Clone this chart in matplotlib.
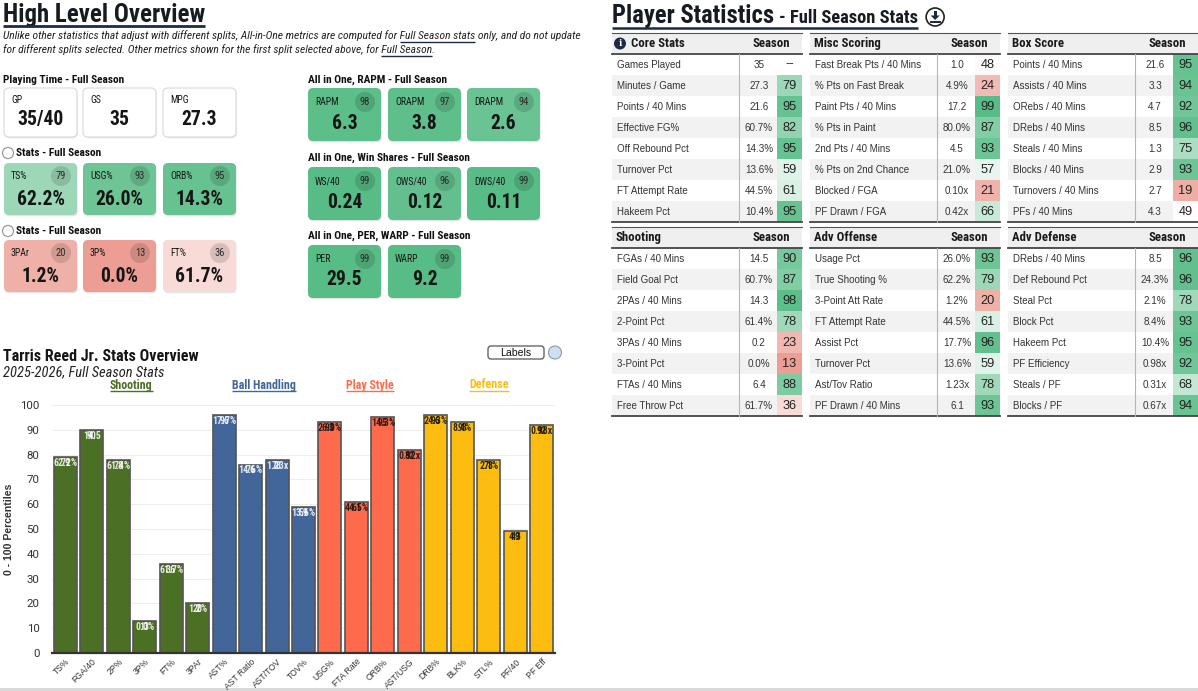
import matplotlib
matplotlib.use('Agg')
import matplotlib.pyplot as plt
from matplotlib import font_manager
from matplotlib.patches import FancyBboxPatch, Rectangle, Circle, Polygon
import matplotlib.transforms as mtransforms
import numpy as np

# ---------------- data ----------------
playing_labels = ['GP', 'GS', 'MPG']
playing_values = ['35/40', '35', '27.3']

stats1_labels = ['TS%', 'USG%', 'ORB%']
stats1_values = ['62.2%', '26.0%', '14.3%']
stats1_pcts = [79, 93, 95]

stats2_labels = ['3PAr', '3P%', 'FT%']
stats2_values = ['1.2%', '0.0%', '61.7%']
stats2_pcts = [20, 13, 36]

rapm_labels = ['RAPM', 'ORAPM', 'DRAPM']
rapm_values = ['6.3', '3.8', '2.6']
rapm_pcts = [98, 97, 94]

ws_labels = ['WS/40', 'OWS/40', 'DWS/40']
ws_values = ['0.24', '0.12', '0.11']
ws_pcts = [99, 96, 99]

per_labels = ['PER', 'WARP']
per_values = ['29.5', '9.2']
per_pcts = [99, 99]

bar_categories = ['TS%', 'FGA/40', '2P%', '3P%', 'FT%', '3PAr',
                  'AST%', 'AST Ratio', 'AST/TOV', 'TOV%',
                  'USG%', 'FTA Rate', 'ORB%', 'AST/USG',
                  'DRB%', 'BLK%', 'STL%', 'PF/40', 'PF Eff']
bar_percentiles = [79, 90, 78, 13, 36, 20,
                   96, 76, 78, 59,
                   93, 61, 95, 82,
                   96, 93, 78, 49, 92]
bar_value_labels = ['62.2%', '14.5', '61.4%', '0.0%', '61.7%', '1.2%',
                    '17.7%', '14.6%', '1.23x', '13.6%',
                    '26.0%', '44.5%', '14.3%', '0.92x',
                    '24.3%', '8.4%', '2.1%', '4.3', '0.98x']
bar_groups = (['Shooting'] * 6 + ['Ball Handling'] * 4 +
              ['Play Style'] * 4 + ['Defense'] * 5)
group_names = ['Shooting', 'Ball Handling', 'Play Style', 'Defense']
group_colors = {'Shooting': '#4b6f24', 'Ball Handling': '#426699',
                'Play Style': '#fe6b4c', 'Defense': '#fcbc10'}

core_labels = ['Games Played', 'Minutes / Game', 'Points / 40 Mins', 'Effective FG%',
               'Off Rebound Pct', 'Turnover Pct', 'FT Attempt Rate', 'Hakeem Pct']
core_values = ['35', '27.3', '21.6', '60.7%', '14.3%', '13.6%', '44.5%', '10.4%']
core_pcts = [None, 79, 95, 82, 95, 59, 61, 95]

misc_labels = ['Fast Break Pts / 40 Mins', '% Pts on Fast Break', 'Paint Pts / 40 Mins',
               '% Pts in Paint', '2nd Pts / 40 Mins', '% Pts on 2nd Chance',
               'Blocked / FGA', 'PF Drawn / FGA']
misc_values = ['1.0', '4.9%', '17.2', '80.0%', '4.5', '21.0%', '0.10x', '0.42x']
misc_pcts = [48, 24, 99, 87, 93, 57, 21, 66]

box_labels = ['Points / 40 Mins', 'Assists / 40 Mins', 'ORebs / 40 Mins', 'DRebs / 40 Mins',
              'Steals / 40 Mins', 'Blocks / 40 Mins', 'Turnovers / 40 Mins', 'PFs / 40 Mins']
box_values = ['21.6', '3.3', '4.7', '8.5', '1.3', '2.9', '2.7', '4.3']
box_pcts = [95, 94, 92, 96, 75, 93, 19, 49]

shoot_labels = ['FGAs / 40 Mins', 'Field Goal Pct', '2PAs / 40 Mins', '2-Point Pct',
                '3PAs / 40 Mins', '3-Point Pct', 'FTAs / 40 Mins', 'Free Throw Pct']
shoot_values = ['14.5', '60.7%', '14.3', '61.4%', '0.2', '0.0%', '6.4', '61.7%']
shoot_pcts = [90, 87, 98, 78, 23, 13, 88, 36]

advo_labels = ['Usage Pct', 'True Shooting %', '3-Point Att Rate', 'FT Attempt Rate',
               'Assist Pct', 'Turnover Pct', 'Ast/Tov Ratio', 'PF Drawn / 40 Mins']
advo_values = ['26.0%', '62.2%', '1.2%', '44.5%', '17.7%', '13.6%', '1.23x', '6.1']
advo_pcts = [93, 79, 20, 61, 96, 59, 78, 93]

advd_labels = ['DRebs / 40 Mins', 'Def Rebound Pct', 'Steal Pct', 'Block Pct',
               'Hakeem Pct', 'PF Efficiency', 'Steals / PF', 'Blocks / PF']
advd_values = ['8.5', '24.3%', '2.1%', '8.4%', '10.4%', '0.98x', '0.31x', '0.67x']
advd_pcts = [96, 96, 78, 93, 95, 92, 68, 94]

# ---------------- setup ----------------
W, H = 1198, 691
fig = plt.figure(figsize=(W / 100, H / 100), dpi=100)
fig.patch.set_facecolor('white')
ov = fig.add_axes([0, 0, 1, 1], zorder=0)
ov.set_xlim(0, W)
ov.set_ylim(H, 0)
ov.axis('off')
R = fig.canvas.get_renderer()

names = {f.name for f in font_manager.fontManager.ttflist}
if 'Roboto Condensed' in names:
    COND = 'Roboto Condensed'
elif 'Liberation Sans Narrow' in names:
    COND = 'Liberation Sans Narrow'
else:
    COND = 'Roboto'
BODY = 'Liberation Sans' if 'Liberation Sans' in names else 'DejaVu Sans'
NAVY = '#1b2a4a'


def pt(p):
    return p * 0.72


def measure(s, size_px, **kw):
    t = ov.text(0, 0, s, fontsize=pt(size_px), **kw)
    w = t.get_window_extent(R).width
    t.remove()
    return w


def fit(s, target, size_px, **kw):
    return size_px * target / measure(s, size_px, **kw)


def T(x, y, s, size_px, ha='left', va='center', color='#111111', **kw):
    return ov.text(x, y, s, fontsize=pt(size_px), ha=ha, va=va, color=color, **kw)


def xext(t):
    bb = t.get_window_extent(R)
    return bb.x0, bb.x1


def uline(x0, x1, y, color=NAVY, lw=1.0):
    ov.plot([x0, x1], [y, y], color=color, lw=lw, solid_capstyle='butt', zorder=5)


GREEN = np.array([85, 187, 132])
RED = np.array([229, 123, 110])


def pct_color(p):
    if p >= 50:
        t = (p - 50) / 50
        c = 255 + t * (GREEN - 255)
    else:
        t = (50 - p) / 50
        c = 255 + t * (RED - 255)
    return tuple(np.clip(c, 0, 255) / 255)


# ---------------- left: High Level Overview ----------------
ts = fit('High Level Overview', 202, 25, family=COND, weight='bold')
t = T(3, 15, 'High Level Overview', ts, family=COND, weight='bold', color='#161a22')
a, b = xext(t)
uline(a, b, 26, lw=2.0)

sub_pre1 = 'Unlike other statistics that adjust with different splits, All-in-One metrics are computed for '
sub_u1 = 'Full Season stats'
sub_post1 = ' only, and do not update'
sub_pre2 = 'for different splits selected. Other metrics shown for the first split selected above, for '
sub_u2 = 'Full Season'
sub_post2 = '.'
skw = dict(family=COND, style='italic')
ss = fit(sub_pre1 + sub_u1 + sub_post1, 579, 12, **skw)
for (pre, u, post, y) in [(sub_pre1, sub_u1, sub_post1, 36), (sub_pre2, sub_u2, sub_post2, 50)]:
    T(3, y, pre + u + post, ss, color='#222222', **skw)
    xe = 3 + measure(pre + u, ss, **skw)
    xs = xe - measure(u, ss, **skw)
    uline(xs, xe, y + 0.45 * ss + 1, lw=1.0)

sec_kw = dict(family=COND, weight='bold')
sec_size = fit('Playing Time - Full Season', 121, 11, **sec_kw)
lab_size = fit('DRAPM', 29, 10, family=COND)
val_size = fit('62.2%', 48, 18, family=COND, weight='bold')


def card(x, y, w, h, label, value, pct=None, val_dy=35, lab_dy=13):
    fc = 'white' if pct is None else pct_color(pct)
    ov.add_patch(FancyBboxPatch((x + 0.6, y + 1.2), w, h,
                                boxstyle='round,pad=0,rounding_size=5',
                                fc='#e4e4e4', ec='none', zorder=1))
    ov.add_patch(FancyBboxPatch((x, y), w, h, boxstyle='round,pad=0,rounding_size=5',
                                fc=fc, ec='#dcdcdc' if pct is None else 'none',
                                lw=0.9, zorder=2))
    T(x + 7, y + lab_dy, label, lab_size, family=COND, color='#151515', zorder=3)
    if pct is not None:
        ov.add_patch(Circle((x + w - 16, y + lab_dy), 10, fc='black', alpha=0.13,
                            ec='none', zorder=3))
        T(x + w - 16, y + lab_dy, str(pct), lab_size * 1.08, ha='center',
          family=COND, color='#2a2a2a', zorder=4)
    T(x + w / 2, y + val_dy, value, val_size, ha='center', family=COND,
      weight='bold', color='#151515', zorder=3)


left_x = [4, 83, 163]
right_x = [308, 388, 467]
CW = 73

T(3, 80, 'Playing Time - Full Season', sec_size, **sec_kw)
for xx, l, v in zip(left_x, playing_labels, playing_values):
    card(xx, 88, CW, 49, l, v, None, val_dy=31, lab_dy=12)

for yy, cy, labs, vals, pcs in [(153, 163, stats1_labels, stats1_values, stats1_pcts),
                                (231, 240, stats2_labels, stats2_values, stats2_pcts)]:
    ov.add_patch(Circle((8, yy), 5.5, fc='white', ec='#9a9a9a', lw=0.9, zorder=3))
    T(16, yy, 'Stats - Full Season', sec_size, **sec_kw)
    for xx, l, v, p in zip(left_x, labs, vals, pcs):
        card(xx, cy, CW, 52, l, v, p, val_dy=36, lab_dy=13)

for yy, cy, title, labs, vals, pcs, vdy in [
        (80, 88, 'All in One, RAPM - Full Season', rapm_labels, rapm_values, rapm_pcts, 35),
        (158, 167, 'All in One, Win Shares - Full Season', ws_labels, ws_values, ws_pcts, 35),
        (236, 245, 'All in One, PER, WARP - Full Season', per_labels, per_values, per_pcts, 34)]:
    T(308, yy, title, sec_size, **sec_kw)
    for xx, l, v, p in zip(right_x, labs, vals, pcs):
        card(xx, cy, CW, 53, l, v, p, val_dy=vdy, lab_dy=14)

# ---------------- bar chart ----------------
bt = fit('Tarris Reed Jr. Stats Overview', 196, 14, family=COND, weight='bold')
T(3, 356, 'Tarris Reed Jr. Stats Overview', bt, family=COND, weight='bold', color='#151515')
st = fit('2025-2026, Full Season Stats', 162, 12, family=COND, style='italic')
T(3, 372, '2025-2026, Full Season Stats', st, family=COND, style='italic', color='#222222')

ov.add_patch(FancyBboxPatch((488, 346), 56, 13, boxstyle='round,pad=0,rounding_size=3',
                            fc='white', ec='#555555', lw=0.9, zorder=3))
T(516, 352.5, 'Labels', 10.5, ha='center', family=BODY, color='#111111', zorder=4)
ov.add_patch(Circle((555, 352.5), 6.5, fc='#cfe0f5', ec='#8e9aa8', lw=0.8, zorder=3))

ax = fig.add_axes([52 / W, (H - 653) / H, 503 / W, 248 / H], zorder=2)
ax.set_facecolor('none')
xpos = np.arange(len(bar_categories))
bcolors = [group_colors[g] for g in bar_groups]
ax.bar(xpos, bar_percentiles, width=0.87, color=bcolors, edgecolor='#555555',
       linewidth=1.2, zorder=3)
ax.set_xlim(-0.5, len(xpos) - 0.5)
ax.set_ylim(0, 100)
ax.set_yticks(range(0, 101, 10))
ax.grid(axis='y', color='#eeeeee', lw=0.8, zorder=0)
ax.grid(axis='x', visible=False)
for s in ['top', 'right', 'left']:
    ax.spines[s].set_visible(False)
ax.spines['bottom'].set_color('#333333')
ax.spines['bottom'].set_linewidth(1.6)
ax.spines['bottom'].set_zorder(4)
ax.set_xticks(xpos)
ax.set_xticklabels(bar_categories, rotation=45, ha='right', rotation_mode='anchor',
                   fontsize=pt(8.7), family=BODY, color='#333333')
ax.tick_params(axis='x', length=0, pad=3)
ax.tick_params(axis='y', length=0, pad=9, labelsize=pt(11.5), labelcolor='#333333')
for lab in ax.get_yticklabels():
    lab.set_family('Roboto' if 'Roboto' in names else BODY)
ax.set_ylabel('0 - 100 Percentiles', fontsize=pt(10.5), weight='bold', family=BODY,
              color='#333333')
ax.yaxis.set_label_coords((14 - 52) / 503, 0.5)

for xi, p, v, g in zip(xpos, bar_percentiles, bar_value_labels, bar_groups):
    tc = 'white' if g in ('Shooting', 'Ball Handling') else '#111111'
    for s in (v, str(p)):
        ax.text(xi, p - 2.4, s, ha='center', va='center', fontsize=pt(9.8),
                weight='bold', family=COND, color=tc, zorder=5, alpha=0.85)

blend = mtransforms.blended_transform_factory(ax.transData, ax.transAxes)
gs = fit('Ball Handling', 64, 11, family=COND, weight='bold')
for gname in group_names:
    idx = [i for i, g in enumerate(bar_groups) if g == gname]
    cx = (idx[0] + idx[-1]) / 2
    t = ax.text(cx, (653 - 385) / 248, gname, transform=blend, ha='center', va='center',
                fontsize=pt(gs), family=COND, weight='bold', color=group_colors[gname])
    a, b = xext(t)
    uline(a, b, 385 + 0.45 * gs + 1, color=group_colors[gname], lw=1.0)

ov.add_patch(Rectangle((0, 688), W, 3.5, fc='#d9d9d9', ec='none', zorder=1))

# ---------------- right: Player Statistics ----------------
ps = fit('Player Statistics', 162, 21, family=COND, weight='bold')
t1 = T(612, 16, 'Player Statistics', ps, family=COND, weight='bold', color='#161a22')
a1, b1 = xext(t1)
ps2 = fit('- Full Season Stats', 140, 17, family=COND, weight='bold')
t2 = T(b1 + 5, 18, '- Full Season Stats', ps2, family=COND, weight='bold', color='#161a22')
a2, b2 = xext(t2)
uline(a1, b2, 27.5, lw=1.8)
icx = b2 + 17
ov.add_patch(Circle((icx, 17), 9, fc='white', ec='#222222', lw=1.2, zorder=3))
ov.add_patch(Rectangle((icx - 1.6, 10.5), 3.2, 5.5, fc='#1c2a44', ec='none', zorder=4))
ov.add_patch(Polygon([(icx - 4.5, 15.5), (icx + 4.5, 15.5), (icx, 20)], closed=True,
                     fc='#1c2a44', ec='none', zorder=4))
ov.add_patch(Rectangle((icx - 5.5, 20.5), 11, 2.2, fc='#1c2a44', ec='none', zorder=4))

body_size = fit('Fast Break Pts / 40 Mins', 106, 10, family=BODY)
hdr_size = fit('Core Stats', 53, 11, family=COND, weight='bold')
TW, RH = 190, 21


def table(x0, y0, title, labels, values, pcts, info=False):
    ov.add_patch(Rectangle((x0, y0), TW, RH, fc='#efefef', ec='none', zorder=1))
    tx = x0 + 4
    if info:
        ov.add_patch(Circle((x0 + 8, y0 + RH / 2), 6, fc='#1d2b45', ec='none', zorder=3))
        T(x0 + 8, y0 + RH / 2 + 0.3, 'i', 9, ha='center', family='DejaVu Serif',
          weight='bold', color='white', zorder=4)
        tx = x0 + 19
    T(tx, y0 + RH / 2, title, hdr_size, family=COND, weight='bold', color='#1a1a1a', zorder=3)
    T(x0 + 159, y0 + RH / 2, 'Season', hdr_size, ha='center', family=COND, weight='bold',
      color='#1a1a1a', zorder=3)
    for i, (l, v, p) in enumerate(zip(labels, values, pcts)):
        ry = y0 + RH * (i + 1)
        bg = 'white' if i % 2 == 0 else '#f2f2f2'
        ov.add_patch(Rectangle((x0, ry), TW, RH, fc=bg, ec='none', zorder=1))
        if p is not None:
            ov.add_patch(Rectangle((x0 + 165, ry), TW - 165, RH, fc=pct_color(p),
                                   ec='none', zorder=2))
        T(x0 + 5, ry + RH / 2, l, body_size, family=BODY, color='#333333', zorder=3)
        T(x0 + 147, ry + RH / 2, v, body_size * 1.02, ha='center', family=BODY,
          color='#333333', zorder=3)
        T(x0 + 177.5, ry + RH / 2, '--' if p is None else str(p), body_size * 1.32,
          ha='center', family=BODY, color='#222222', zorder=3)
    yb = y0 + RH * (len(labels) + 1)
    ov.plot([x0, x0 + TW], [y0, y0], color='#555555', lw=0.8, zorder=4)
    ov.plot([x0, x0 + TW], [y0 + RH, y0 + RH], color='#444444', lw=1.3, zorder=4)
    ov.plot([x0, x0 + TW], [yb, yb], color='#444444', lw=1.3, zorder=4)
    ov.plot([x0 + 127, x0 + 127], [y0 + RH, yb], color='#b5b5b5', lw=0.8, zorder=4)


table(612, 33, 'Core Stats', core_labels, core_values, core_pcts, info=True)
table(810, 33, 'Misc Scoring', misc_labels, misc_values, misc_pcts)
table(1008, 33, 'Box Score', box_labels, box_values, box_pcts)
table(612, 227, 'Shooting', shoot_labels, shoot_values, shoot_pcts)
table(810, 227, 'Adv Offense', advo_labels, advo_values, advo_pcts)
table(1008, 227, 'Adv Defense', advd_labels, advd_values, advd_pcts)

fig.savefig('out.png', dpi=100, facecolor='white')
